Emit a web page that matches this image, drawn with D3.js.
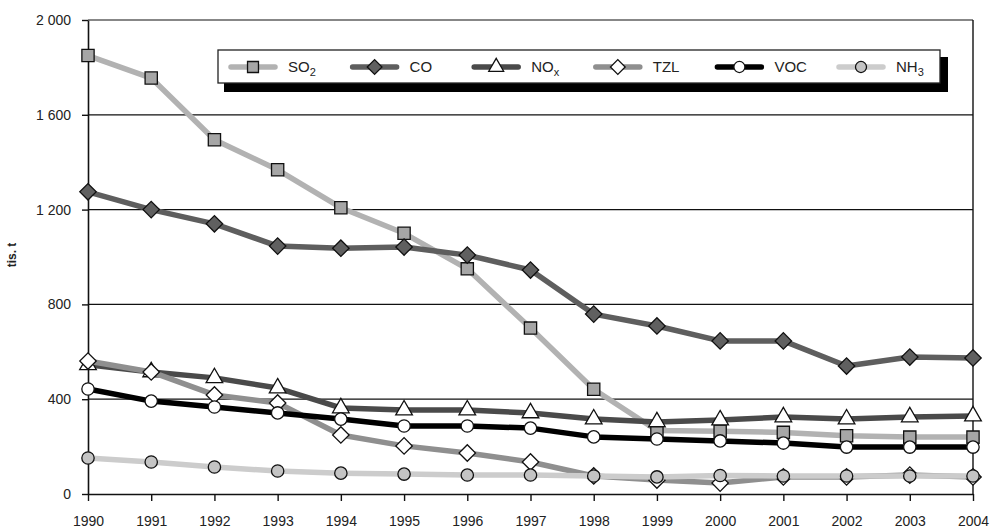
<!DOCTYPE html>
<html>
<head>
<meta charset="utf-8">
<script src="https://cdn.jsdelivr.net/npm/d3@7"></script>
<style>
  body { margin: 0; background: #fff; }
  text { font-family: "Liberation Sans", Arial, sans-serif; fill: #222; }
</style>
</head>
<body>
<svg id="chart"></svg>
<script>
const years = [1990, 1991, 1992, 1993, 1994, 1995, 1996, 1997, 1998, 1999, 2000, 2001, 2002, 2003, 2004];
const so2 = [1850, 1755, 1495, 1368, 1208, 1100, 950, 700, 442, 268, 265, 260, 246, 240, 240];
const co = [1275, 1200, 1140, 1046, 1037, 1042, 1008, 945, 759, 709, 646, 646, 540, 578, 574];
const nox = [545, 515, 490, 447, 363, 354, 354, 342, 316, 304, 312, 325, 316, 325, 329];
const tzl = [561, 515, 418, 384, 249, 203, 173, 135, 76, 59, 46, 72, 72, 80, 72];
const voc = [443, 392, 367, 342, 316, 287, 287, 278, 241, 232, 224, 215, 198, 198, 198];
const nh3 = [152, 135, 114, 97, 88, 84, 80, 80, 76, 72, 78, 76, 76, 76, 76];
const yTicks = [0, 400, 800, 1200, 1600, 2000];
const seriesNames = ["SO2", "CO", "NOx", "TZL", "VOC", "NH3"];

const width = 990;
const height = 531;
const margin = { top: 20, right: 17, bottom: 37, left: 88 };

const svg = d3.select("#chart").attr("width", width).attr("height", height);

const x = d3.scalePoint().domain(years).range([margin.left, width - margin.right]);
const y = d3.scaleLinear().domain([0, 2000]).range([height - margin.bottom, margin.top]);

const fmt = d3.formatLocale({ decimal: ",", thousands: " ", grouping: [3], currency: ["", ""] }).format(",");

// gridlines + frame
svg.append("g")
  .selectAll("line")
  .data(yTicks.filter((d) => d > 0))
  .enter()
  .append("line")
  .attr("x1", margin.left)
  .attr("x2", width - margin.right)
  .attr("y1", (d) => y(d))
  .attr("y2", (d) => y(d))
  .attr("stroke", "#111")
  .attr("stroke-width", 1.2);

svg.append("line")
  .attr("x1", width - margin.right).attr("x2", width - margin.right)
  .attr("y1", y(2000)).attr("y2", y(0))
  .attr("stroke", "#111").attr("stroke-width", 1.4);

// axes
const yAxis = svg.append("g")
  .attr("transform", `translate(${margin.left},0)`)
  .call(d3.axisLeft(y).tickValues(yTicks).tickFormat(fmt).tickSizeInner(6).tickSizeOuter(0).tickPadding(11));
yAxis.select(".domain").attr("stroke", "#111").attr("stroke-width", 1.6);
yAxis.selectAll(".tick line").attr("stroke", "#111").attr("stroke-width", 1.4);
yAxis.selectAll("text").style("font-size", "14px").attr("fill", "#222").style("font-family", "Liberation Sans, Arial, sans-serif");

const xAxis = svg.append("g")
  .attr("transform", `translate(0,${y(0)})`)
  .call(d3.axisBottom(x).tickSizeInner(7).tickSizeOuter(0).tickPadding(15));
xAxis.select(".domain").attr("stroke", "#111").attr("stroke-width", 1.6);
xAxis.selectAll(".tick line").attr("stroke", "#111").attr("stroke-width", 1.4);
xAxis.selectAll("text").style("font-size", "14px").attr("fill", "#222").style("font-family", "Liberation Sans, Arial, sans-serif");

// y label
svg.append("text")
  .attr("transform", "rotate(-90)")
  .attr("x", -255)
  .attr("y", 16)
  .attr("text-anchor", "middle")
  .style("font-size", "12px")
  .style("font-weight", "bold")
  .text("tis. t");

// series styles (diamonds are squares turned 45 degrees)
const styles = {
  SO2: { data: so2, line: "#b2b2b2", fill: "#a6a6a6", shape: d3.symbolSquare, size: 150, rot: 0 },
  CO: { data: co, line: "#5e5e5e", fill: "#606060", shape: d3.symbolSquare, size: 135, rot: 45 },
  NOx: { data: nox, line: "#4a4a4a", fill: "#ffffff", shape: d3.symbolTriangle, size: 120, rot: 0 },
  TZL: { data: tzl, line: "#8f8f8f", fill: "#ffffff", shape: d3.symbolSquare, size: 135, rot: 45 },
  VOC: { data: voc, line: "#000000", fill: "#ffffff", shape: d3.symbolCircle, size: 120, rot: 0 },
  NH3: { data: nh3, line: "#cccccc", fill: "#c4c4c4", shape: d3.symbolCircle, size: 120, rot: 0 }
};

const line = d3.line().x((d, i) => x(years[i])).y((d) => y(d));

seriesNames.forEach((name) => {
  const s = styles[name];
  const g = svg.append("g").attr("class", "series");
  g.append("path")
    .datum(s.data)
    .attr("d", line)
    .attr("fill", "none")
    .attr("stroke", s.line)
    .attr("stroke-width", 5.5)
    .attr("stroke-linejoin", "round");
  g.selectAll("path.mark")
    .data(s.data)
    .enter()
    .append("path")
    .attr("class", "mark")
    .attr("transform", (d, i) => `translate(${x(years[i])},${y(d)}) rotate(${s.rot})`)
    .attr("d", d3.symbol().type(s.shape).size(s.size))
    .attr("fill", s.fill)
    .attr("stroke", "#111")
    .attr("stroke-width", 1.3);
});

// legend
const legend = svg.append("g");
legend.append("rect")
  .attr("x", 224).attr("y", 57).attr("width", 724).attr("height", 35)
  .attr("fill", "#000");
legend.append("rect")
  .attr("x", 218).attr("y", 50).attr("width", 722).attr("height", 33)
  .attr("fill", "#fff").attr("stroke", "#222").attr("stroke-width", 1.3);

const labels = {
  SO2: ["SO", "2"], CO: ["CO", ""], NOx: ["NO", "x"], TZL: ["TZL", ""], VOC: ["VOC", ""], NH3: ["NH", "3"]
};

seriesNames.forEach((name, i) => {
  const s = styles[name];
  const cx = 253 + i * 121.6;
  const cy = 67;
  legend.append("line")
    .attr("x1", cx - 22).attr("x2", cx + 22)
    .attr("y1", cy).attr("y2", cy)
    .attr("stroke", s.line).attr("stroke-width", 5.5).attr("stroke-linecap", "round");
  legend.append("path")
    .attr("transform", `translate(${cx},${cy}) rotate(${s.rot})`)
    .attr("d", d3.symbol().type(s.shape).size(s.size * 0.8))
    .attr("fill", s.fill)
    .attr("stroke", "#111")
    .attr("stroke-width", 1.3);
  const t = legend.append("text")
    .attr("x", cx + 35).attr("y", cy + 5)
    .style("font-size", "15px");
  t.append("tspan").text(labels[name][0]);
  if (labels[name][1]) {
    t.append("tspan").attr("dy", 4).style("font-size", "11px").text(labels[name][1]);
  }
});
</script>
</body>
</html>
